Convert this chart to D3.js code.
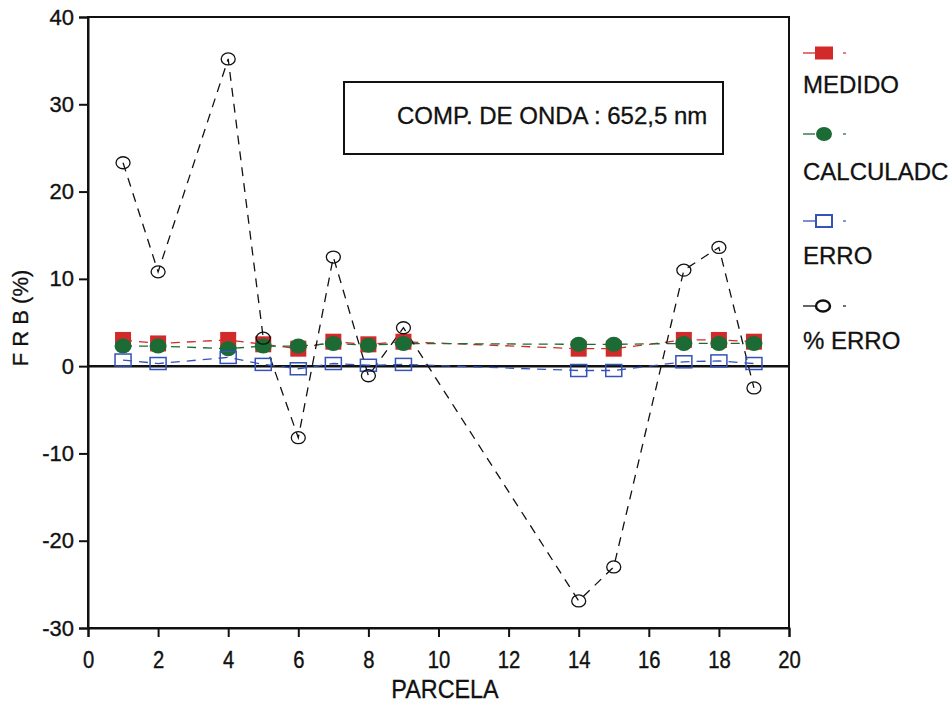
<!DOCTYPE html>
<html>
<head>
<meta charset="utf-8">
<script src="https://cdn.jsdelivr.net/npm/d3@7"></script>
<style>
  html, body { margin: 0; padding: 0; background: #fff; }
  svg { display: block; font-family: "Liberation Sans", Arial, sans-serif; }
</style>
</head>
<body>
<svg id="chart" width="952" height="704"></svg>
<script>
// Plot numbers (parcela) and measured values
const parcelas   = [1, 2, 4, 5, 6, 7, 8, 9, 14, 15, 17, 18, 19];
const medido     = [3.0, 2.6, 3.0, 2.5, 2.0, 2.8, 2.5, 2.8, 2.0, 2.0, 3.0, 3.0, 2.8];
const calculado  = [2.3, 2.3, 2.0, 2.3, 2.3, 2.6, 2.4, 2.6, 2.5, 2.5, 2.6, 2.6, 2.6];
const erro       = [0.7, 0.3, 1.0, 0.2, -0.3, 0.3, 0.1, 0.2, -0.5, -0.5, 0.5, 0.6, 0.3];
const pctErro    = [23.3, 10.8, 35.2, 3.2, -8.2, 12.5, -1.1, 4.4, -26.9, -23.0, 11.0, 13.6, -2.5];

const xTicks = [0, 2, 4, 6, 8, 10, 12, 14, 16, 18, 20];
const yTicks = [-30, -20, -10, 0, 10, 20, 30, 40];

const seriesNames = ["MEDIDO", "CALCULADC", "ERRO", "% ERRO"];
const annotation = "COMP. DE ONDA : 652,5 nm";

const svg = d3.select("#chart");
const plotL = 88, plotR = 789, plotT = 17, plotB = 628;

const x = d3.scaleLinear().domain([0, 20]).range([plotL, plotR]);
const y = d3.scaleLinear().domain([-30, 40]).range([plotB, plotT]);

const colors = { med: "#d22a2a", calc: "#1c6a34", erro: "#3452b8", pct: "#111" };
const plain = d => String(d);

// Frame
svg.append("rect")
  .attr("x", plotL).attr("y", plotT)
  .attr("width", plotR - plotL).attr("height", plotB - plotT)
  .attr("fill", "none").attr("stroke", "#111").attr("stroke-width", 2);

// Axes
const xAxis = svg.append("g")
  .attr("transform", `translate(0,${plotB})`)
  .call(d3.axisBottom(x).tickValues(xTicks).tickSize(9).tickPadding(0).tickFormat(plain));
const yAxis = svg.append("g")
  .attr("transform", `translate(${plotL},0)`)
  .call(d3.axisLeft(y).tickValues(yTicks).tickSize(9).tickPadding(5).tickFormat(plain));
[xAxis, yAxis].forEach(g => {
  g.attr("font-family", null).attr("font-size", null);
  g.select(".domain").attr("stroke", "#111").attr("stroke-width", 2);
  g.selectAll(".tick line").attr("stroke", "#111").attr("stroke-width", 2);
  g.selectAll(".tick text").attr("fill", "#111")
    .attr("stroke", "#111").attr("stroke-width", 0.35)
    .style("font-size", "22px");
});
// Bottom tick labels: slightly condensed, taller glyphs
xAxis.selectAll(".tick text")
  .attr("dy", null).attr("y", null)
  .attr("transform", "translate(0,40) scale(0.92,1.12)");

// Zero reference line
svg.append("line")
  .attr("x1", plotL).attr("x2", plotR)
  .attr("y1", y(0)).attr("y2", y(0))
  .attr("stroke", "#111").attr("stroke-width", 2.5);

// Axis titles
svg.append("text")
  .attr("transform", "translate(445,698) scale(0.9,1.0)")
  .attr("text-anchor", "middle")
  .style("font-size", "26px").attr("fill", "#111")
  .attr("stroke", "#111").attr("stroke-width", 0.3)
  .text("PARCELA");
svg.append("text")
  .attr("transform", "translate(28,318) rotate(-90)")
  .attr("text-anchor", "middle")
  .style("font-size", "22px").attr("fill", "#111")
  .attr("stroke", "#111").attr("stroke-width", 0.3)
  .text("F R B (%)");

// Series
const line = vals => d3.line().x((d, i) => x(parcelas[i])).y((d) => y(d))(vals);

function drawLine(vals, color) {
  svg.append("path")
    .attr("d", line(vals))
    .attr("fill", "none").attr("stroke", color)
    .attr("stroke-width", 1.3).attr("stroke-dasharray", "9,7");
}

drawLine(medido, colors.med);
drawLine(calculado, colors.calc);
drawLine(erro, colors.erro);
drawLine(pctErro, colors.pct);

svg.append("g").selectAll("rect").data(medido).join("rect")
  .attr("x", (d, i) => x(parcelas[i]) - 8).attr("y", d => y(d) - 8)
  .attr("width", 16).attr("height", 16)
  .attr("fill", colors.med);

svg.append("g").selectAll("ellipse").data(calculado).join("ellipse")
  .attr("cx", (d, i) => x(parcelas[i])).attr("cy", d => y(d))
  .attr("rx", 8.5).attr("ry", 7.5)
  .attr("fill", colors.calc);

svg.append("g").selectAll("rect").data(erro).join("rect")
  .attr("x", (d, i) => x(parcelas[i]) - 8).attr("y", d => y(d) - 6)
  .attr("width", 16).attr("height", 12)
  .attr("fill", "none").attr("stroke", colors.erro).attr("stroke-width", 1.5);

svg.append("g").selectAll("ellipse").data(pctErro).join("ellipse")
  .attr("cx", (d, i) => x(parcelas[i])).attr("cy", d => y(d))
  .attr("rx", 7).attr("ry", 6)
  .attr("fill", "none").attr("stroke", colors.pct).attr("stroke-width", 1.3);

// Annotation box
svg.append("rect")
  .attr("x", 344).attr("y", 82).attr("width", 379).attr("height", 72)
  .attr("fill", "#fff").attr("stroke", "#111").attr("stroke-width", 2);
svg.append("text")
  .attr("x", 397).attr("y", 124)
  .style("font-size", "24px").attr("fill", "#111")
  .attr("stroke", "#111").attr("stroke-width", 0.3)
  .text(annotation);

// Legend
const legend = svg.append("g").attr("transform", "translate(803,0)");
const legendRows = [
  { name: seriesNames[0], color: colors.med, mark: "sq", ym: 53, yt: 93 },
  { name: seriesNames[1], color: colors.calc, mark: "dot", ym: 134, yt: 180 },
  { name: seriesNames[2], color: colors.erro, mark: "osq", ym: 221, yt: 264 },
  { name: seriesNames[3], color: colors.pct, mark: "oc", ym: 306, yt: 349 }
];
legendRows.forEach(r => {
  legend.append("line").attr("x1", 0).attr("x2", 12).attr("y1", r.ym).attr("y2", r.ym)
    .attr("stroke", r.color).attr("stroke-width", 1.3);
  legend.append("line").attr("x1", 40).attr("x2", 43).attr("y1", r.ym).attr("y2", r.ym)
    .attr("stroke", r.color).attr("stroke-width", 1.2);
  if (r.mark === "sq") {
    legend.append("rect").attr("x", 12).attr("y", r.ym - 6.5).attr("width", 18).attr("height", 13).attr("fill", r.color);
  } else if (r.mark === "dot") {
    legend.append("ellipse").attr("cx", 21).attr("cy", r.ym).attr("rx", 8).attr("ry", 7).attr("fill", r.color);
  } else if (r.mark === "osq") {
    legend.append("rect").attr("x", 13).attr("y", r.ym - 6).attr("width", 16).attr("height", 12)
      .attr("fill", "none").attr("stroke", r.color).attr("stroke-width", 2);
  } else {
    legend.append("ellipse").attr("cx", 20).attr("cy", r.ym).attr("rx", 7).attr("ry", 5.5)
      .attr("fill", "none").attr("stroke", r.color).attr("stroke-width", 2.5);
  }
  legend.append("text").attr("x", 0).attr("y", r.yt)
    .style("font-size", "24px").attr("fill", "#111")
    .attr("stroke", "#111").attr("stroke-width", 0.3)
    .text(r.name);
});
</script>
</body>
</html>
